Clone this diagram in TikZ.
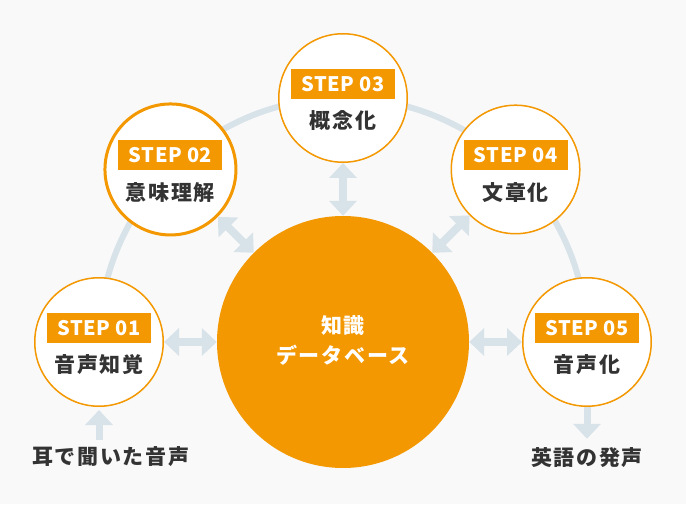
\documentclass[tikz,border=0pt]{standalone}
\usepackage{fontspec}
\setmainfont{Noto Sans CJK JP}
\newfontfamily\jpwide[LetterSpace=8]{Noto Sans CJK JP}
\newfontfamily\tagfont[LetterSpace=3]{Noto Sans CJK JP}
\usetikzlibrary{arrows.meta}
\definecolor{stepOrange}{HTML}{F39800}
\definecolor{linkBlue}{HTML}{D8E2E9}
\definecolor{paper}{HTML}{F9F9F9}
\definecolor{inkGray}{HTML}{333333}

\begin{document}
\begin{tikzpicture}[x=1pt,y=1pt]
\tikzset{stepcircle/.style={circle,fill=white,draw=stepOrange,inner sep=0pt}}
\tikzset{steptag/.style={fill=stepOrange,text=white,minimum width=104pt,minimum height=30pt,inner sep=0pt,font=\tagfont\bfseries\fontsize{20}{24}\selectfont}}
\tikzset{steplabel/.style={text=inkGray,inner sep=0pt,font=\jpwide\bfseries\fontsize{21}{25}\selectfont}}
\tikzset{ring/.style={draw=linkBlue,line width=6pt}}
\tikzset{link/.style={draw=linkBlue,line width=8pt,{Triangle[length=15pt,width=27pt]}-{Triangle[length=15pt,width=27pt]}}}
\tikzset{flow/.style={draw=linkBlue,line width=7pt,-{Triangle[length=15pt,width=27pt]}}}
% background
\fill[paper] (0,0) rectangle (686,504);
\useasboundingbox (0,0) rectangle (686,504);
\coordinate (kb) at (343,162);
\draw[ring] ([shift={(180:244)}]kb) arc[start angle=180,end angle=0,radius=244];
% knowledge base
\node[circle,fill=stepOrange,minimum size=252pt,inner sep=0pt] (base) at (kb) {};
\node[text=white,align=center,inner sep=0pt,font=\jpwide\bfseries\fontsize{21}{30}\selectfont] (basetext) at ([yshift=2pt]kb) {知識\\データベース};
% steps
\foreach \i/\a/\w/\m/\lab in {1/180/1.5/128.5/音声知覚, 2/135/3/131/意味理解, 3/90/1.5/128.5/概念化, 4/45/1.5/128.5/文章化, 5/0/1.5/128.5/音声化}{
  \node[stepcircle,line width=\w pt,minimum size=\m pt] (s\i) at ([shift={(\a:244)}]kb) {};
  \node[steptag] (t\i) at ([yshift=14pt]s\i.center) {STEP 0\i};
  \node[steplabel] (n\i) at ([yshift=-23pt]s\i.center) {\lab};
  \draw[link] (s\i) -- (base);
}
% input and output
\node[steplabel,anchor=west] (ear) at (32,47) {耳で聞いた音声};
\node[steplabel] (voice) at ([yshift=-116pt]s5.center) {英語の発声};
\draw[flow,shorten <=7pt,shorten >=3pt] (s1 |- ear.north) -- (s1);
\draw[flow,shorten >=9pt] (s5) -- (voice);
\end{tikzpicture}
\end{document}
